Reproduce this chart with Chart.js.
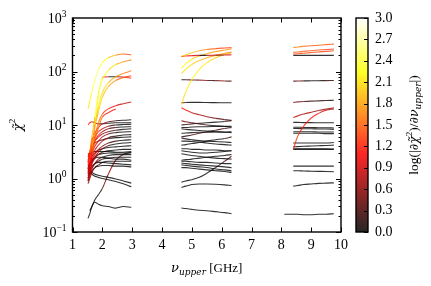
<!DOCTYPE html>
<html>
<head>
<meta charset="utf-8">
<script src="https://cdn.jsdelivr.net/npm/chart.js@4.4.0/dist/chart.umd.min.js"></script>
<style>
  html, body { margin: 0; padding: 0; background: #fff; }
  #wrap { width: 431px; height: 286px; }
</style>
</head>
<body>
<div id="wrap"><canvas id="chart"></canvas></div>
<script>
// frequencies (GHz) sampled in each band
const nuBand1 = [1.52, 1.58, 1.65, 1.75, 1.87, 2.0, 2.2, 2.45, 2.7, 2.97];
const nuBand2 = [4.65, 4.8, 5.0, 5.25, 5.5, 5.8, 6.1, 6.33];
const nuBand3 = [8.1, 8.4, 8.55, 8.75, 9.0, 9.25, 9.5, 9.76];

// reduced chi^2 curves, one row per source (null = no point)
const chiBand1 = [
  [20, 28, 42, 70, 110, 145, 180, 202, 212, 205],
  [null, 3, 6, 14, 40, 70, 105, 135, 152, 165],
  [null, null, 4, 10, 22, 40, 62, 80, 92, 103],
  [null, null, 3.5, 9, 18, 33, 52, 68, 77, 83],
  [null, null, null, 10, 35, 78, 80, 80, 79, 75],
  [1.5, 2, 3, 6, 11, 16, 20, 23, 25, 27],
  [null, null, 2.5, 5, 9, 14, 17, 20, null, null],
  [2, 3, 5, 7, 9, 10.5, 11.5, 12, 12.3, 12.5],
  [10, 11, 11.5, 11, 10.5, 10.5, 10.8, 11, 11, 11],
  [2.2, 3, 4.5, 6, 7.5, 8.5, 9.5, 10, 10.2, 10.3],
  [1.8, 2.5, 3.5, 5, 6.5, 7.5, 8.5, 9, 9.2, 9.3],
  [2, 2.8, 3.8, 5, 6, 6.8, 7.5, 8, 8.3, 8.5],
  [1.5, 2, 3, 4, 5, 6, 6.8, 7.2, 7.4, 7.5],
  [1.3, 1.8, 2.5, 3.4, 4.2, 5, 5.8, 6.2, 6.5, 6.6],
  [2.5, 3.2, 4, 4.6, 5, 5.3, 5.6, 5.8, 5.9, 6],
  [1.2, 1.6, 2.2, 2.8, 3.5, 4, 4.6, 5, 5.2, 5.3],
  [0.9, 1.3, 1.9, 2.5, 3.1, 3.6, 4.1, 4.4, 4.6, 4.7],
  [1.6, 2, 2.5, 3, 3.4, 3.6, 3.8, 3.9, 4, 4.1],
  [1, 1.4, 1.9, 2.4, 2.8, 3.1, 3.3, 3.4, 3.5, 3.5],
  [2.8, 3, 3.1, 3.2, 3.2, 3.2, 3.2, 3.1, 3.1, 3.2],
  [1.4, 1.7, 2.1, 2.5, 2.8, 2.9, 3, 3, 3, 3],
  [0.9, 1.1, 1.5, 1.9, 2.3, 2.5, 2.7, 2.8, 2.8, 2.8],
  [1.1, 1.3, 1.6, 1.9, 2.1, 2.3, 2.4, 2.5, 2.5, 2.5],
  [1.7, 1.9, 2.2, 2.4, 2.5, 2.5, 2.4, 2.3, 2.3, 2.2],
  [0.8, 1.0, 1.3, 1.6, 1.8, 2, 2.1, 2.1, 2.1, 2.1],
  [1.3, 1.5, 1.7, 1.9, 2, 2, 1.95, 1.9, 1.85, 1.8],
  [1.0, 1.2, 1.4, 1.6, 1.7, 1.75, 1.75, 1.7, 1.7, 1.65],
  [1.2, 1.3, 1.2, 1.1, 1.05, 1.0, 0.95, 0.88, 0.8, 0.7],
  [1.5, 1.4, 1.3, 1.2, 1.15, 1.1, 1.05, 0.98, 0.9, 0.82],
  [0.18, 0.22, 0.3, 0.36, 0.33, 0.31, 0.3, 0.28, 0.3, 0.29],
  [null, 0.25, 0.3, 0.4, 0.5, 0.65, 1.2, 2.2, 2.8, 3.1]
];

const chiBand2 = [
  [190, 195, 198, 200, 200, 202, 203, 205],
  [190, 205, 225, 245, 258, 268, 275, 280],
  [115, 140, 170, 195, 215, 235, 252, 265],
  [92, 110, 135, 160, 180, 200, 218, 230],
  [24, 42, 70, 110, 145, 180, 208, 225],
  [70, 70, 69.5, 69, 68, 67.5, 66.5, 66],
  [26, 26.3, 26.5, 26.5, 26.3, 26.2, 26, 26],
  [21, 19, 17, 15.5, 14.3, 13.3, 12.6, 12.2],
  [12, 11.5, 11, 10.5, 10, 9.7, 9.4, 9.2],
  [10, 10.2, 10.5, 10.8, 11, 11.3, 11.6, 12],
  [9, 9, 9.2, 9.3, 9.3, 9.4, 9.5, 9.5],
  [8.5, 8.3, 8.1, 7.9, 7.7, 7.5, 7.3, 7.2],
  [7, 7.1, 7.2, 7.3, 7.3, 7.4, 7.4, 7.5],
  [6, 6.2, 6.5, 7, 7.5, 8, 8.6, 9],
  [5.7, 5.5, 5.3, 5.1, 5, 4.9, 4.8, 4.7],
  [5, 5, 4.9, 4.8, 4.6, 4.4, 4.3, 4.2],
  [4.2, 4.3, 4.5, 4.7, 5, 5.3, 5.6, 6],
  [3.6, 3.6, 3.5, 3.5, 3.4, 3.4, 3.3, 3.3],
  [3.3, 3.2, 3.1, 3.0, 3.0, 3.1, 3.2, 3.3],
  [2.9, 2.8, 2.7, 2.6, 2.5, 2.4, 2.35, 2.3],
  [2.2, 2.25, 2.3, 2.4, 2.5, 2.6, 2.7, 2.8],
  [2.1, 2.1, 2.05, 2, 2, 1.95, 1.9, 1.9],
  [1.95, 1.9, 1.85, 1.8, 1.75, 1.7, 1.65, 1.6],
  [1.8, 1.75, 1.7, 1.65, 1.6, 1.5, 1.45, 1.4],
  [1.6, 1.6, 1.55, 1.5, 1.45, 1.4, 1.35, 1.3],
  [0.85, 0.9, 0.95, 1.05, 1.25, 1.6, 2.1, 2.6],
  [0.68, 0.72, 0.77, 0.79, 0.79, 0.78, 0.76, 0.74],
  [0.28, 0.275, 0.265, 0.255, 0.25, 0.24, 0.23, 0.22]
];

const chiBand3 = [
  [null, 280, 287, 295, 303, 310, 318, 325],
  [null, 228, 232, 238, 245, 252, 258, 263],
  [null, 212, 215, 220, 226, 232, 238, 244],
  [null, 200, 200, 200, 200, 200, 200, 200],
  [null, 66, 66.3, 66.8, 67, 67.3, 67.6, 68],
  [null, 26.5, 27, 27.5, 28, 28.3, 28.7, 29],
  [null, 13.8, 14.8, 16, 17.3, 18.6, 19.8, 21],
  [null, 3.5, 6.2, 9.5, 13.5, 16.5, 18.8, 20],
  [null, 11.2, 11.2, 11.1, 11.1, 11, 11, 11],
  [null, 9.1, 9.1, 9.0, 9.0, 8.9, 8.9, 8.8],
  [null, 8.6, 8.6, 8.5, 8.5, 8.4, 8.4, 8.3],
  [null, 7.5, 7.5, 7.5, 7.5, 7.4, 7.4, 7.4],
  [null, 7.0, 7.0, 7.0, 7.0, 7.0, 6.9, 6.9],
  [null, 4.6, 4.6, 4.6, 4.6, 4.6, 4.6, 4.7],
  [null, 3.9, 3.95, 4.0, 4.05, 4.1, 4.15, 4.2],
  [null, 3.6, 3.6, 3.6, 3.6, 3.6, 3.6, 3.55],
  [null, 3.5, 3.5, 3.5, 3.5, 3.5, 3.5, 3.5],
  [null, 1.7, 1.7, 1.7, 1.7, 1.7, 1.7, 1.7],
  [null, 1.4, 1.4, 1.38, 1.37, 1.36, 1.35, 1.34],
  [null, 0.72, 0.74, 0.77, 0.79, 0.81, 0.82, 0.83],
  [0.215, 0.215, 0.215, 0.21, 0.21, 0.215, 0.215, 0.22]
];

const xTickValues = [1, 2, 3, 4, 5, 6, 7, 8, 9, 10];
const yDecades = [-1, 0, 1, 2, 3];
const cbTickValues = [0.0, 0.3, 0.6, 0.9, 1.2, 1.5, 1.8, 2.1, 2.4, 2.7, 3.0];

const SERIF = "'Liberation Serif', 'DejaVu Serif', serif";
const WIDE = "'DejaVu Serif', serif";
const LINE_ALPHA = 0.8;

// matplotlib "hot" colormap, v in [0, 3]
function hot(v, a) {
  const t = Math.min(1, Math.max(0, v / 3));
  const r = Math.min(1, t / 0.365);
  const g = Math.min(1, Math.max(0, (t - 0.365) / 0.381));
  const b = Math.min(1, Math.max(0, (t - 0.746) / 0.254));
  return `rgba(${Math.round(r * 255)},${Math.round(g * 255)},${Math.round(b * 255)},${a})`;
}

// colour each piece by log|d chi^2 / d nu|
function segColor(ctx) {
  const a = ctx.p0.parsed, b = ctx.p1.parsed;
  const d = Math.abs((b.y - a.y) / (b.x - a.x));
  const v = d > 0 ? Math.log10(d) : 0;
  return hot(v, LINE_ALPHA);
}

function buildSets(nu, rows) {
  return rows.map(row => ({
    data: row.map((y, i) => ({ x: nu[i], y: y })).filter(p => p.y !== null),
    borderColor: 'rgba(0,0,0,0.7)',
    borderWidth: 1.1,
    pointRadius: 0,
    fill: false,
    cubicInterpolationMode: 'monotone',
    segment: { borderColor: segColor }
  }));
}

const datasets = [
  ...buildSets(nuBand1, chiBand1),
  ...buildSets(nuBand2, chiBand2),
  ...buildSets(nuBand3, chiBand3)
];

// frame, inward ticks, log labels, colorbar and axis titles
const decor = {
  id: 'decor',
  afterDraw(chart) {
    const ctx = chart.ctx;
    const ca = chart.chartArea;
    const sx = chart.scales.x, sy = chart.scales.y, cb = chart.scales.cb;
    ctx.save();
    ctx.strokeStyle = '#000';
    ctx.fillStyle = '#000';
    ctx.lineWidth = 1;

    const seg = (x0, y0, x1, y1) => {
      ctx.beginPath(); ctx.moveTo(x0, y0); ctx.lineTo(x1, y1); ctx.stroke();
    };

    xTickValues.forEach(v => {
      const px = Math.round(sx.getPixelForValue(v)) + 0.5;
      seg(px, ca.bottom, px, ca.bottom - 4.5);
      seg(px, ca.top, px, ca.top + 4.5);
    });

    for (let p = -1; p < 3; p++) {
      for (let m = 1; m <= 9; m++) {
        const py = Math.round(sy.getPixelForValue(m * Math.pow(10, p))) + 0.5;
        const len = m === 1 ? 5 : 2.5;
        seg(ca.left, py, ca.left + len, py);
        seg(ca.right, py, ca.right - len, py);
      }
    }

    ctx.lineWidth = 1.4;
    ctx.strokeRect(ca.left, ca.top, ca.right - ca.left, ca.bottom - ca.top);

    // y labels 10^n
    yDecades.forEach(p => {
      const py = sy.getPixelForValue(Math.pow(10, p));
      const ex = p < 0 ? '\u2212' + (-p) : String(p);
      ctx.textAlign = 'right';
      ctx.textBaseline = 'alphabetic';
      ctx.font = `9.5px ${SERIF}`;
      const ew = ctx.measureText(ex).width;
      const right = ca.left - 6;
      ctx.fillText(ex, right, py - 1.5);
      ctx.font = `14px ${SERIF}`;
      ctx.fillText('10', right - ew, py + 4.5);
    });

    // colorbar
    const bx0 = 356, bx1 = 368;
    const grad = ctx.createLinearGradient(0, ca.bottom, 0, ca.top);
    grad.addColorStop(0, 'rgb(0,0,0)');
    grad.addColorStop(0.365, 'rgb(255,0,0)');
    grad.addColorStop(0.746, 'rgb(255,255,0)');
    grad.addColorStop(1, 'rgb(255,255,255)');
    ctx.globalAlpha = 0.85;
    ctx.fillStyle = grad;
    ctx.fillRect(bx0, ca.top, bx1 - bx0, ca.bottom - ca.top);
    ctx.globalAlpha = 1;
    ctx.fillStyle = '#000';
    ctx.lineWidth = 1;
    cbTickValues.forEach(v => {
      const py = Math.round(cb.getPixelForValue(v)) + 0.5;
      seg(bx1 - 4, py, bx1, py);
    });
    ctx.lineWidth = 1.4;
    ctx.strokeRect(bx0, ca.top, bx1 - bx0, ca.bottom - ca.top);

    // mixed-size text runs
    const runs = (parts, cx, cy) => {
      let w = 0;
      parts.forEach(pt => { ctx.font = pt.f; w += ctx.measureText(pt.t).width; });
      let x = cx - w / 2;
      ctx.textAlign = 'left';
      ctx.textBaseline = 'alphabetic';
      parts.forEach(pt => {
        ctx.font = pt.f;
        ctx.fillText(pt.t, x, cy + (pt.dy || 0));
        x += ctx.measureText(pt.t).width;
      });
    };

    // x title
    runs([
      { t: '\u03bd', f: `italic 13px ${WIDE}` },
      { t: 'upper', f: `italic 9px ${WIDE}`, dy: 2.5 },
      { t: ' [GHz]', f: `13px ${SERIF}` }
    ], (ca.left + ca.right) / 2, 272);

    // y title
    ctx.save();
    ctx.translate(18, (ca.top + ca.bottom) / 2);
    ctx.rotate(-Math.PI / 2);
    runs([
      { t: '\u03c7\u0303', f: `italic 13px ${WIDE}` },
      { t: '2', f: `9px ${SERIF}`, dy: -7 }
    ], 0, 4);
    ctx.restore();

    // colorbar title
    ctx.save();
    ctx.translate(418, (ca.top + ca.bottom) / 2);
    ctx.rotate(-Math.PI / 2);
    runs([
      { t: 'log(|', f: `13.5px ${SERIF}` },
      { t: '\u2202\u03c7\u0303', f: `italic 12.5px ${WIDE}` },
      { t: '2', f: `9px ${SERIF}`, dy: -6 },
      { t: ')/', f: `13.5px ${SERIF}` },
      { t: '\u2202\u03bd', f: `italic 12.5px ${WIDE}` },
      { t: 'upper', f: `italic 9px ${WIDE}`, dy: 2.5 },
      { t: '|)', f: `13.5px ${SERIF}` }
    ], 0, 0);
    ctx.restore();

    ctx.restore();
  }
};

const chart = new Chart(document.getElementById('chart'), {
  type: 'line',
  data: { datasets: datasets },
  options: {
    responsive: true,
    maintainAspectRatio: false,
    animation: false,
    events: [],
    layout: { padding: { left: 0, right: 0, top: 18, bottom: 0 } },
    plugins: { legend: { display: false }, tooltip: { enabled: false } },
    scales: {
      x: {
        type: 'linear',
        position: 'bottom',
        min: 1,
        max: 10,
        afterFit: s => { s.height = 54; s.paddingLeft = 0; s.paddingRight = 0; },
        afterBuildTicks: s => { s.ticks = xTickValues.map(v => ({ value: v })); },
        grid: { display: false, drawTicks: false },
        border: { display: false },
        ticks: {
          color: '#000',
          padding: 5,
          font: { family: SERIF, size: 14 },
          callback: v => String(v)
        }
      },
      y: {
        type: 'logarithmic',
        position: 'left',
        min: 0.1,
        max: 1000,
        afterFit: s => { s.width = 72.5; s.paddingTop = 0; s.paddingBottom = 0; },
        grid: { display: false, drawTicks: false },
        border: { display: false },
        ticks: { display: false }
      },
      cb: {
        type: 'linear',
        position: 'right',
        min: 0,
        max: 3,
        afterFit: s => { s.width = 90; s.paddingTop = 0; s.paddingBottom = 0; },
        afterBuildTicks: s => { s.ticks = cbTickValues.map(v => ({ value: v })); },
        grid: { display: false, drawTicks: false },
        border: { display: false },
        ticks: {
          color: '#000',
          padding: 34,
          autoSkip: false,
          font: { family: SERIF, size: 14 },
          callback: v => Number(v).toFixed(1)
        }
      }
    }
  },
  plugins: [decor]
});
</script>
</body>
</html>
